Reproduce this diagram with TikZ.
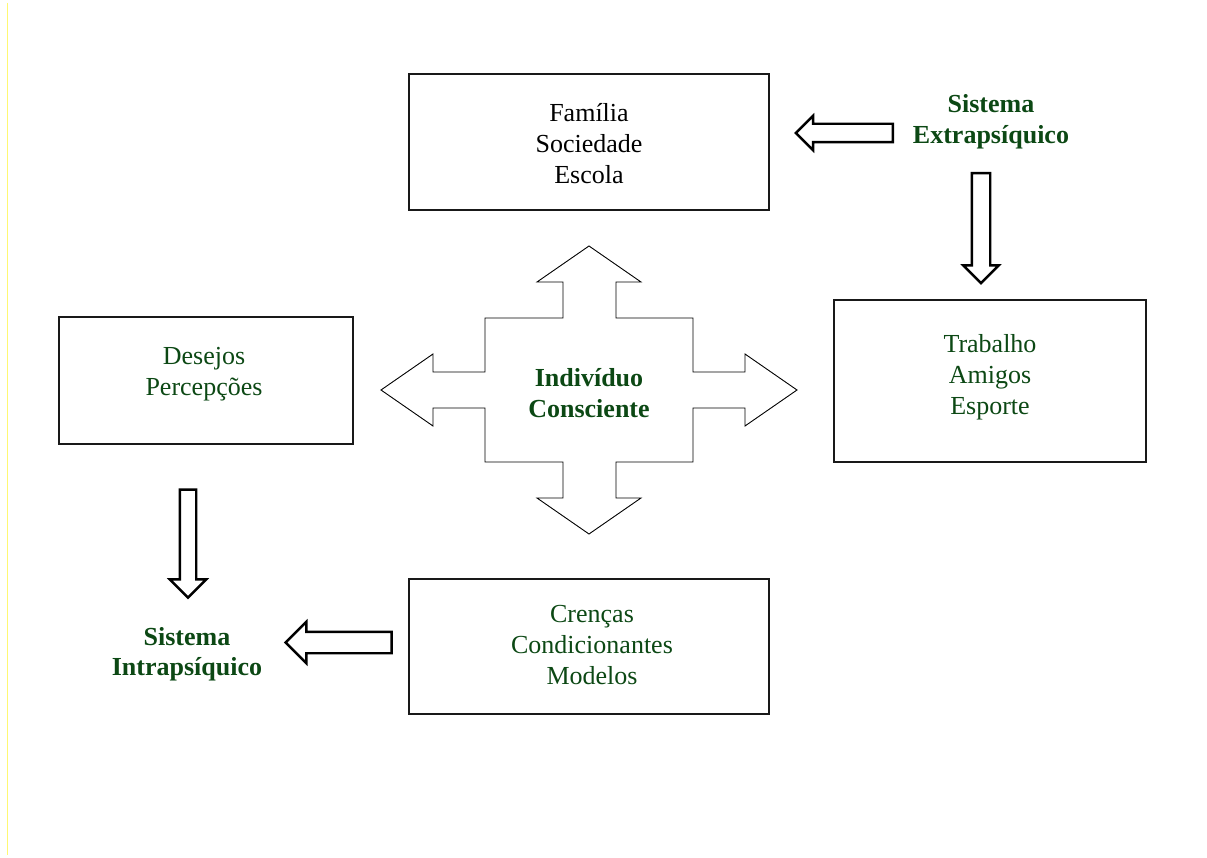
\documentclass[tikz,border=0pt]{standalone}
\usepackage{fontspec}
\setmainfont{Liberation Serif}
\usetikzlibrary{shapes.arrows}
\definecolor{dkgreen}{RGB}{12,72,20}
\begin{document}
\begin{tikzpicture}[x=1pt,y=-1pt,align=center]
\tikzstyle{box}=[draw=black!90,line width=1.6pt,rectangle,inner sep=0pt]
\tikzstyle{txt}=[font=\fontsize{26}{31}\selectfont,inner sep=0pt]
\tikzstyle{sys}=[txt,text=dkgreen,font=\fontsize{26}{30.5}\selectfont\bfseries]
\tikzstyle{blockarrow}=[draw,line width=2.4pt,single arrow,inner sep=0pt,minimum height=100pt]
\useasboundingbox (0,0) rectangle (1207,858);
\draw[yellow!55,line width=0.6pt] (7,3) -- (7,855);
% boxes
\node (famBox) [box,minimum width=360,minimum height=136] at (589,142) {};
\node (trabBox) [box,minimum width=312,minimum height=162] at (990,381) {};
\node (desBox) [box,minimum width=294,minimum height=127] at (206,380.5) {};
\node (crenBox) [box,minimum width=360,minimum height=135] at (589,646.5) {};
\node (famTxt) [txt] at (589,144) {Família\\Sociedade\\Escola};
\node (trabTxt) [txt,text=dkgreen] at (990,377) {Trabalho\\Amigos\\Esporte};
\node (desTxt) [txt,text=dkgreen] at (204,374) {Desejos\\Percepções};
\node (crenTxt) [txt,text=dkgreen] at (592,645) {Crenças\\Condicionantes\\Modelos};
% labels
\node (extra) [sys] at (991,122) {Sistema\\Extrapsíquico};
\node (intra) [sys] at (187,654) {Sistema\\Intrapsíquico};
% the four-way arrow
\draw[line width=0.9pt] (589,246) -- (641,282) -- (616,282) -- (616,318) -- (693,318)
  -- (693,372) -- (745,372) -- (745,354) -- (797,390) -- (745,426) -- (745,408)
  -- (693,408) -- (693,462) -- (616,462) -- (616,498) -- (641,498) -- (589,534)
  -- (537,498) -- (563,498) -- (563,462) -- (485,462) -- (485,408) -- (433,408)
  -- (433,426) -- (381,390) -- (433,354) -- (433,372) -- (485,372) -- (485,318)
  -- (563,318) -- (563,282) -- (537,282) -- cycle;
\node (indiv) [sys] at (589,393) {Indivíduo\\Consciente};
% block arrows
\node (extLeft) [blockarrow,inner ysep=8pt,single arrow head extend=8pt,
  minimum height=97pt,shape border rotate=180] at (849,133) {};
\node (extDown) [blockarrow,inner xsep=8pt,single arrow head extend=8.5pt,
  minimum height=110pt,shape border rotate=270] at (981,223.5) {};
\node (intDown) [blockarrow,inner xsep=7pt,single arrow head extend=10pt,
  minimum height=108pt,shape border rotate=270] at (188,539.5) {};
\node (intLeft) [blockarrow,inner ysep=9.5pt,single arrow head extend=10pt,
  minimum height=106pt,shape border rotate=180] at (344,642.5) {};
\end{tikzpicture}
\end{document}
